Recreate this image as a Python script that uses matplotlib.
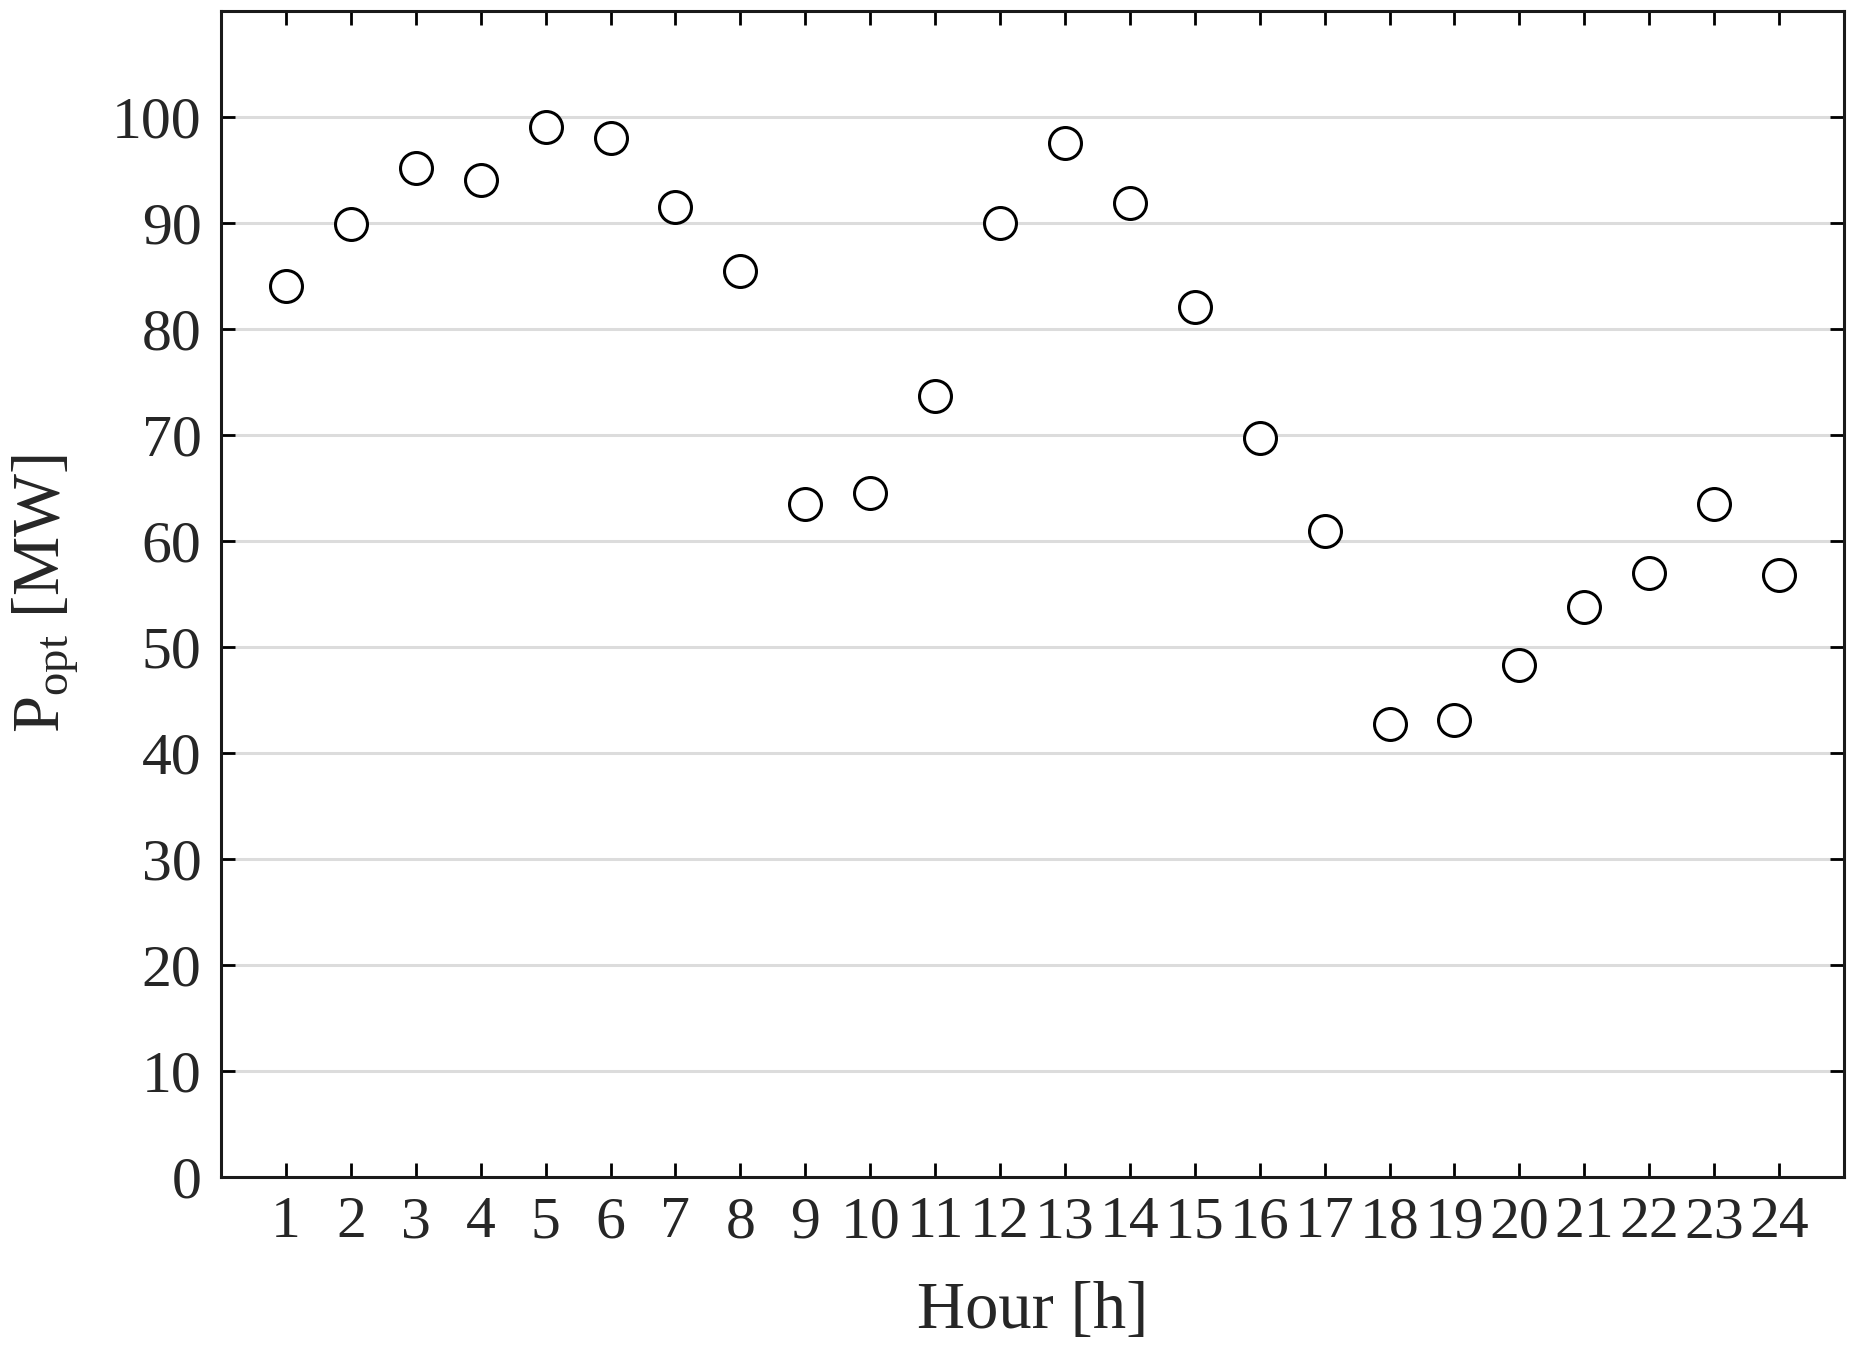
import matplotlib
matplotlib.use("Agg")
import matplotlib.pyplot as plt
import numpy as np

hours = list(range(1, 25))
p_opt = [84.0, 89.9, 95.2, 94.0, 99.0, 98.0, 91.5, 85.5, 63.5, 64.5, 73.7, 90.0,
         97.5, 91.9, 82.1, 69.7, 60.9, 42.7, 43.1, 48.3, 53.8, 57.0, 63.5, 56.8]
y_ticks = list(range(0, 101, 10))

plt.rcParams['font.family'] = ['Liberation Serif', 'DejaVu Serif']
plt.rcParams['mathtext.fontset'] = 'custom'
plt.rcParams['mathtext.rm'] = 'Liberation Serif'
plt.rcParams['mathtext.it'] = 'Liberation Serif'

fig = plt.figure(figsize=(18.57, 13.58), dpi=100)
ax = fig.add_axes([0.119, 0.1333, 0.874, 0.8587])

ax.yaxis.grid(True, color='#dcdcdc', linewidth=2.2)
ax.set_axisbelow(True)
ax.plot(hours, p_opt, linestyle='none', marker='o', markersize=23,
        markerfacecolor='white', markeredgecolor='black', markeredgewidth=2.2)

ax.set_xlim(0, 25)
ax.set_ylim(0, 110)
ax.set_xticks(hours)
ax.set_yticks(y_ticks)
ax.tick_params(direction='in', length=10, width=2, labelsize=43,
               labelcolor='#262626', top=True, right=True, pad=14)
for s in ax.spines.values():
    s.set_linewidth(2.2)
    s.set_color('#1a1a1a')

ax.set_xlabel('Hour [h]', fontsize=48, color='#262626', labelpad=22)
ax.set_ylabel(r'P$_{\mathrm{opt}}$ [MW]', fontsize=48, color='#262626', labelpad=22)

fig.savefig('out.png', dpi=100)
